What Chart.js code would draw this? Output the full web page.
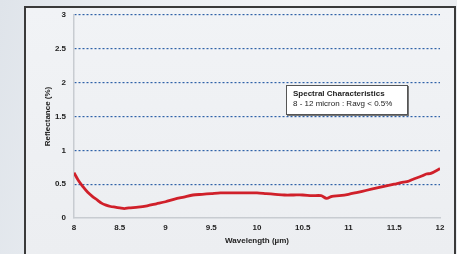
<!DOCTYPE html>
<html>
<head>
<meta charset="utf-8">
<script src="https://cdn.jsdelivr.net/npm/chart.js@4"></script>
<style>
  html, body { margin: 0; padding: 0; }
  body {
    width: 457px; height: 254px; overflow: hidden; position: relative;
    background: linear-gradient(100deg, #dfe4ea 0%, #eceff3 30%, #f3f4f6 60%, #e9ecf0 100%);
    font-family: "Liberation Sans", Arial, sans-serif;
  }
  #frame {
    position: absolute; left: 24px; top: 6px; width: 428px; height: 246px;
    border-left: 2px solid #3a3a3a; border-top: 2px solid #3a3a3a; border-right: 2px solid #3a3a3a;
    border-bottom: 1px solid #c9ced4;
    background: linear-gradient(180deg, #f1f3f6 0%, #eef0f3 60%, #eceef1 100%);
  }
  #chartWrap { position: absolute; left: 0; top: 0; width: 457px; height: 254px; }
  #note {
    position: absolute; left: 286px; top: 85px;
    background: #ffffff; border: 1px solid #555; box-shadow: 1px 1px 0 #777;
    font-size: 8px; color: #222; line-height: 10px; padding: 3px 0 0 6px; box-sizing: border-box;
    width: 122px; height: 30px;
  }
  #note b { font-weight: bold; }
</style>
</head>
<body>
<div id="frame"></div>
<div id="chartWrap"><canvas id="c" width="457" height="254"></canvas></div>
<div id="note"><b>Spectral Characteristics</b><br>8 - 12 micron : Ravg &lt; 0.5%</div>
<script>
const wavelength = [8.00, 8.05, 8.10, 8.15, 8.20, 8.25, 8.30, 8.35, 8.40, 8.45, 8.50, 8.55, 8.60, 8.70, 8.80, 8.90,
  9.00, 9.10, 9.20, 9.30, 9.40, 9.50, 9.60, 9.70, 9.80, 9.90, 10.00, 10.10, 10.20, 10.30, 10.40, 10.50,
  10.60, 10.70, 10.76, 10.82, 10.90, 11.00, 11.10, 11.20, 11.30, 11.40, 11.50, 11.60, 11.65, 11.70,
  11.80, 11.85, 11.90, 12.00];
const reflectance = [0.67, 0.55, 0.46, 0.38, 0.32, 0.27, 0.22, 0.19, 0.17, 0.16, 0.15, 0.14, 0.15, 0.16, 0.18, 0.21,
  0.24, 0.28, 0.31, 0.34, 0.35, 0.36, 0.37, 0.37, 0.37, 0.37, 0.37, 0.36, 0.35, 0.34, 0.34, 0.34,
  0.33, 0.33, 0.29, 0.32, 0.33, 0.35, 0.38, 0.41, 0.44, 0.47, 0.50, 0.53, 0.54, 0.57,
  0.62, 0.65, 0.66, 0.73];
const xTitle = 'Wavelength (µm)';
const yTitle = 'Reflectance (%)';
const xMin = 8, xMax = 12, xStep = 0.5;
const yMin = 0, yMax = 3, yStep = 0.5;

const points = wavelength.map((w, i) => ({ x: w, y: reflectance[i] }));
const tickFont = { family: '"Liberation Sans", Arial, sans-serif', size: 8, weight: 'bold' };

new Chart(document.getElementById('c'), {
  type: 'line',
  data: { datasets: [{ data: points, borderColor: '#d0202a', borderWidth: 2.8, pointRadius: 0, tension: 0.3, fill: false }] },
  options: {
    responsive: false, animation: false,
    layout: { padding: { left: 0, right: 17, top: 15, bottom: 0 } },
    plugins: { legend: { display: false }, tooltip: { enabled: false } },
    scales: {
      x: {
        type: 'linear', min: xMin, max: xMax,
        ticks: { stepSize: xStep, color: '#222', font: tickFont, padding: 5, maxRotation: 0,
          callback: v => String(v) },
        grid: { display: false, drawTicks: false },
        border: { display: true, color: '#c8ccd1', width: 1.5 },
        title: { display: true, text: xTitle, color: '#222', font: tickFont, padding: { top: 0, bottom: 8 } },
        afterFit: s => { s.height = 36; }
      },
      y: {
        min: yMin, max: yMax,
        ticks: { stepSize: yStep, color: '#222', font: tickFont, padding: 8, callback: v => String(v) },
        grid: { drawTicks: false, color: c => (c.tick && c.tick.value === 0) ? 'rgba(0,0,0,0)' : '#2f62a8',
          lineWidth: 1.2 },
        border: { display: true, color: '#c8ccd1', width: 1.5, dash: [2, 2] },
        title: { display: true, text: yTitle, color: '#222', font: tickFont, padding: { top: 43, bottom: 0 } },
        afterFit: s => { s.width = 74; }
      }
    }
  }
});
</script>
</body>
</html>
